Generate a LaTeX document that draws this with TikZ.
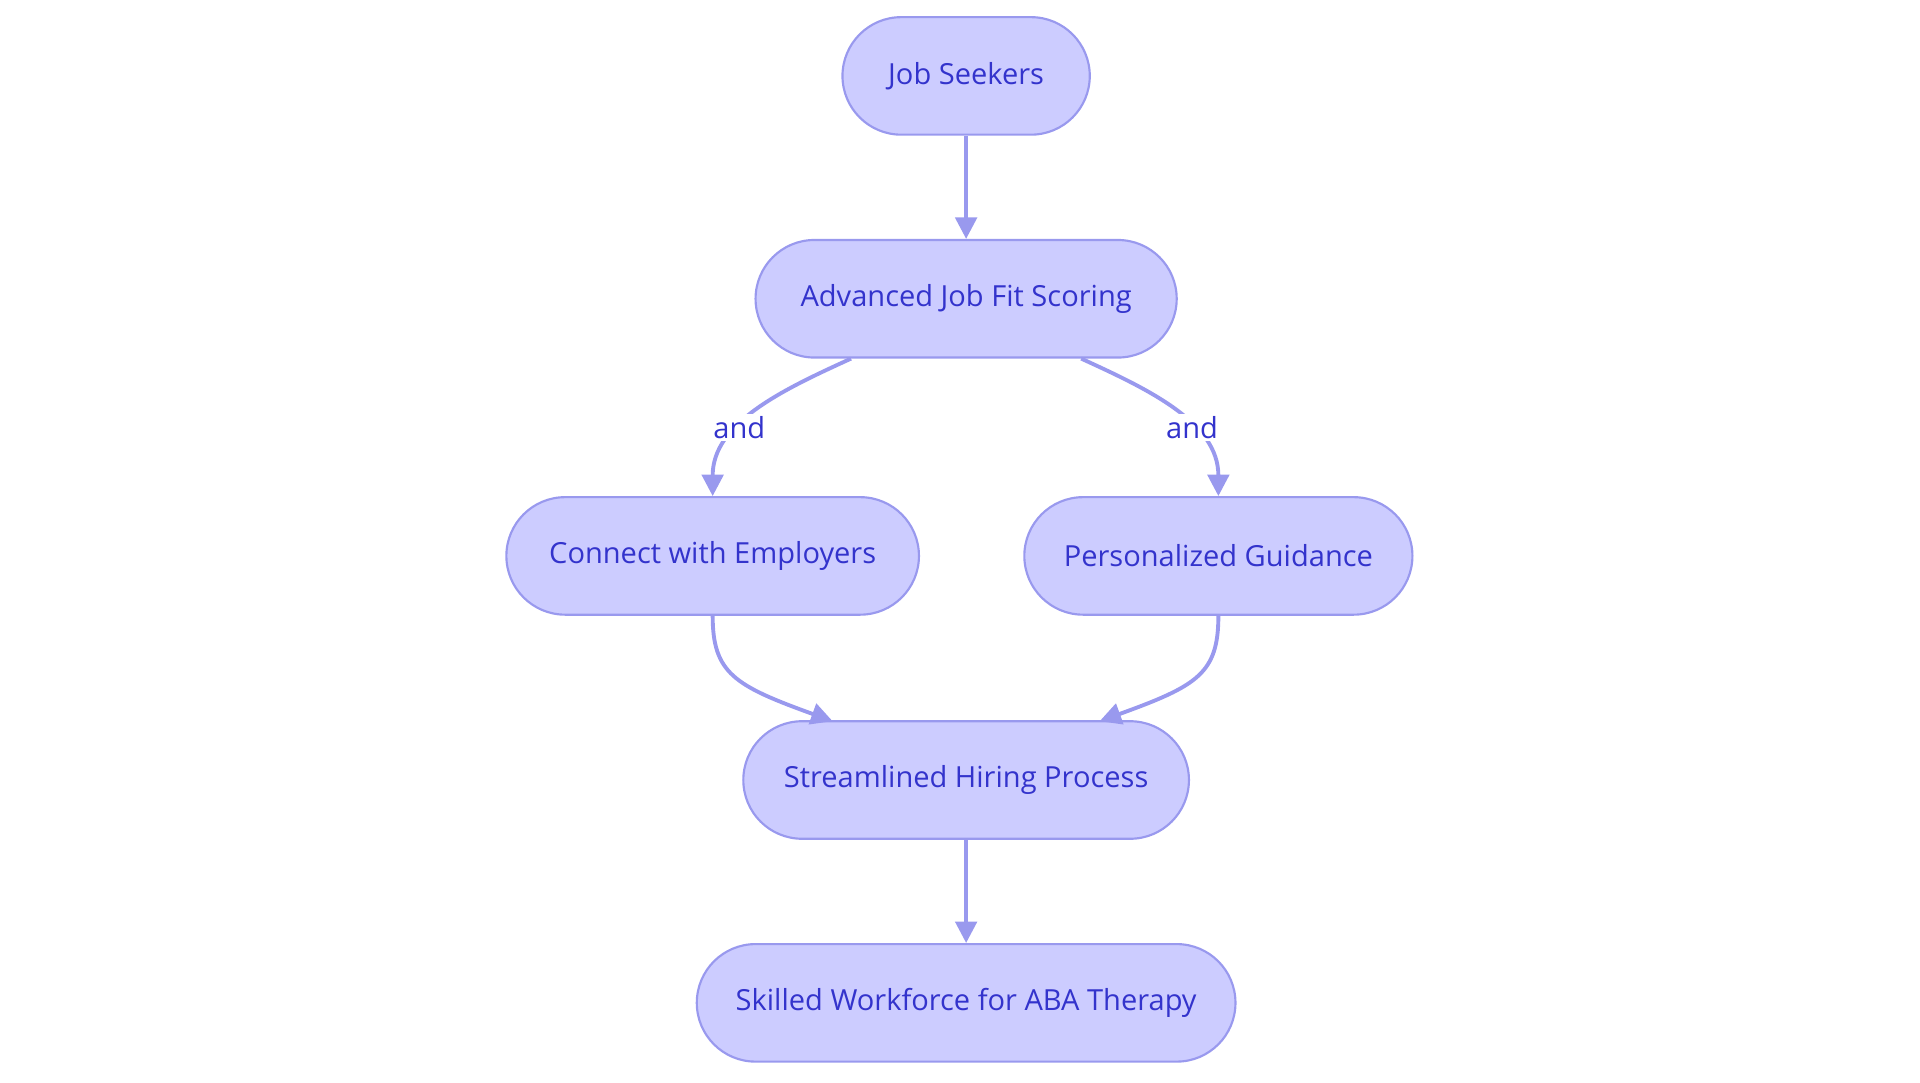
\documentclass[tikz,border=0pt]{standalone}
\usepackage{fontspec}
\setmainfont{Open Sans}
\usetikzlibrary{arrows.meta}
\definecolor{nfill}{HTML}{CCCCFF}
\definecolor{nline}{HTML}{9999EE}
\definecolor{ntext}{HTML}{3333CC}
\begin{document}
\begin{tikzpicture}[x=0.02cm,y=-0.02cm,
  box/.style={draw=nline,fill=nfill,line width=1pt,rounded corners=0.96cm,minimum height=1.92cm,text=ntext,font=\fontsize{13.5}{16}\selectfont,inner sep=0pt},
  arr/.style={draw=nline,line width=1.8pt,-{Triangle[length=10pt,width=10pt]}},
  lab/.style={fill=white,text=ntext,font=\fontsize{13.5}{16}\selectfont,inner sep=1pt}]
\useasboundingbox (0,0) rectangle (1568,884);
\node[box,minimum width=4.04cm] (js) at (789,62) {Job Seekers};
\node[box,minimum width=6.88cm] (ad) at (789,244) {Advanced Job Fit Scoring};
\node[box,minimum width=6.74cm] (ce) at (582,454) {Connect with Employers};
\node[box,minimum width=6.34cm] (pg) at (995,454) {Personalized Guidance};
\node[box,minimum width=7.28cm] (sh) at (789,637) {Streamlined Hiring Process};
\node[box,minimum width=8.8cm] (sw) at (789,819) {Skilled Workforce for ABA Therapy};
\draw[arr] (js) -- (ad);
\draw[arr] (ad.south) ++(-94,0) coordinate (a1) .. controls (640,318) and (582,345) .. (ce.north) node[lab,pos=0.62] {and};
\draw[arr] (ad.south) ++(94,0) coordinate (a2) .. controls (938,318) and (995,345) .. (pg.north) node[lab,pos=0.62] {and};
\draw[arr] (ce.south) .. controls (582,550) and (600,560) .. (680,589);
\draw[arr] (pg.south) .. controls (995,550) and (978,560) .. (898,589);
\draw[arr] (sh) -- (sw);
\end{tikzpicture}
\end{document}
